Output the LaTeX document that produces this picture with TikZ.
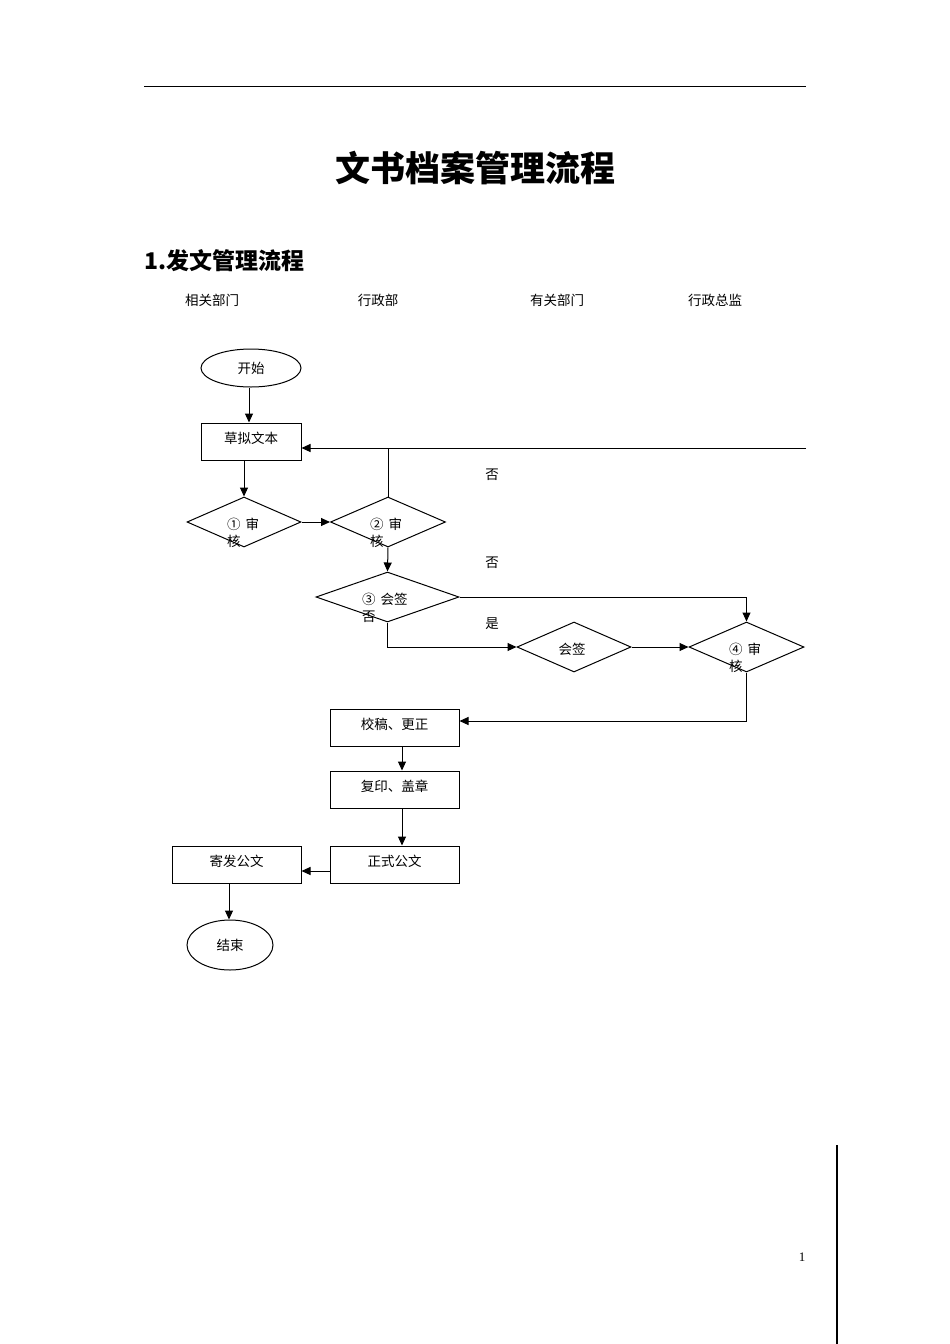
\documentclass[tikz,border=0pt]{standalone}
\usepackage{fontspec}
\setmainfont{Liberation Serif}
\newfontfamily\cjk{Noto Sans CJK SC}
\usetikzlibrary{shapes.geometric,arrows.meta}
\tikzset{
  ln/.style={line width=1pt},
  arr/.style={ln,-{Triangle[length=9pt,width=8pt]}},
  box/.style={draw,ln,rectangle,minimum width=#1,minimum height=37pt,inner sep=0pt,text height=9.5pt,text depth=5pt,font=\cjk\fontsize{13.5}{16}\selectfont},
  oval/.style={draw,ln,ellipse,inner sep=0pt,font=\cjk\fontsize{13.5}{16}\selectfont},
  dia/.style={draw,ln,diamond,minimum width=114pt,minimum height=50pt,inner sep=0pt},
  txt/.style={inner sep=0pt,font=\cjk\fontsize{13.5}{16}\selectfont},
  dtxt/.style={inner sep=0pt,align=left,anchor=north west,font=\cjk\fontsize{13.5}{17}\selectfont},
}
\begin{document}
\begin{tikzpicture}[x=1pt,y=-1pt]
\useasboundingbox (0,0) rectangle (950,1344);
% header rule
\coordinate (r1) at (144,86);
\coordinate (r2) at (806,86);
\draw[line width=1pt] (r1) -- (r2);
\node[inner sep=0pt,font=\cjk\bfseries\fontsize{35}{40}\selectfont] (title) at (475,168) {文书档案管理流程};
\node[inner sep=0pt,anchor=west,font=\cjk\bfseries\fontsize{23}{28}\selectfont] (sub) at (144,261) {1.发文管理流程};
% lanes
\node[txt] (l1) at (212,300) {相关部门};
\node[txt] (l2) at (378,300) {行政部};
\node[txt] (l3) at (557,300) {有关部门};
\node[txt] (l4) at (715,300) {行政总监};
% nodes
\node[oval,minimum width=100pt,minimum height=38pt] (start) at (251,368) {开始};
\node[box=100pt] (draft) at (251,441.5) {草拟文本};
\node[dia] (d1) at (244,522) {};
\node[dtxt] (d1t) at (227,518) {①\hspace{5pt}审\\核};
\node[dia,minimum width=115pt] (d2) at (388,522) {};
\node[dtxt] (d2t) at (370,518) {②\hspace{5pt}审\\核};
\node[dia,minimum width=143pt] (d3) at (387.5,597) {};
\node[dtxt] (d3t) at (362,593) {③\hspace{5pt}会签\\否};
\node[dia] (d5) at (574,647) {};
\node[txt] (d5t) at (572,649) {会签};
\node[dia,minimum width=115pt] (d4) at (746.5,647) {};
\node[dtxt] (d4t) at (729,643) {④\hspace{5pt}审\\核};
\node[box=129pt] (proof) at (394.5,727.5) {校稿、更正};
\node[box=129pt] (copy) at (394.5,789.5) {复印、盖章};
\node[box=129pt] (formal) at (394.5,864.5) {正式公文};
\node[box=129pt] (send) at (236.5,864.5) {寄发公文};
\node[oval,minimum width=86pt,minimum height=50pt] (end) at (230,945) {结束};
% labels
\node[txt] (n1) at (492,475) {否};
\node[txt] (n2) at (492,563) {否};
\node[txt] (y1) at (492,624) {是};
% connectors
\draw[arr] (start.south -| 249,0) -- (draft.north -| 249,0);
\coordinate (fb) at (806,448);
\draw[arr] (fb) -- (draft.east |- fb);
\draw[ln] (d2.north) -- (d2.north |- fb);
\draw[arr] (draft.south -| d1.north) -- (d1.north);
\draw[arr] (d1.east) -- (d2.west);
\draw[arr] (d2.south) -- (d3.north);
\draw[arr] (d3.east) -| (d4.north);
\draw[arr] (d3.south) |- (d5.west);
\draw[arr] (d5.east) -- (d4.west);
\draw[arr] (d4.south) |- (proof.east |- 0,721);
\draw[arr] (proof.south -| 402,0) -- (copy.north -| 402,0);
\draw[arr] (copy.south -| 402,0) -- (formal.north -| 402,0);
\draw[arr] (formal.west |- 0,871) -- (send.east |- 0,871);
\draw[arr] (send.south -| 229,0) -- (end.north -| 229,0);
% footer
\node[inner sep=0pt,font=\fontsize{13}{15}\selectfont] (pg) at (802,1257) {1};
\coordinate (v1) at (837,1145);
\coordinate (v2) at (837,1344);
\draw[line width=1.2pt] (v1) -- (v2);
\end{tikzpicture}
\end{document}
